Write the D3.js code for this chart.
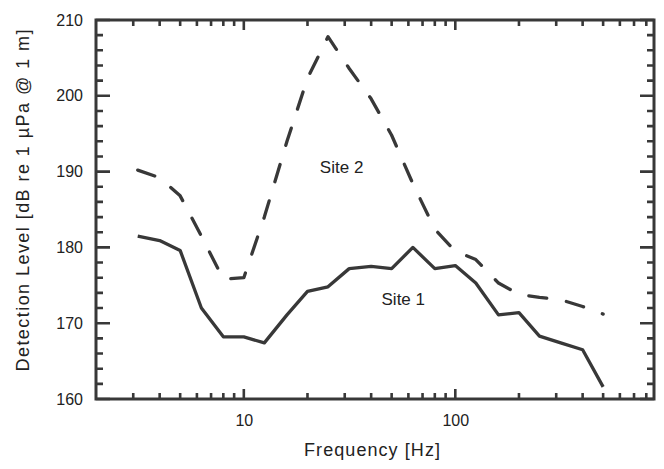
<!DOCTYPE html>
<html lang="en">
<head>
  <meta charset="UTF-8" />
  <title>Detection Level vs Frequency</title>
  <script src="https://d3js.org/d3.v7.min.js"></script>
  <style>
    body {
      margin: 0;
      background: #fff;
      font-family: "Liberation Sans", Arial, sans-serif;
    }
  </style>
</head>
<body>
  <div id="chart"></div>

  <script>
    // 1/3-octave band centres (Hz)
    const freqs = [3.15, 4, 5, 6.3, 8, 10, 12.5, 16, 20, 25, 31.5, 40, 50, 63, 80, 100, 125, 160, 200, 250, 315, 400, 500];
    const site1 = [181.5, 180.9, 179.6, 172.0, 168.2, 168.2, 167.4, 171.1, 174.2, 174.8, 177.2, 177.5, 177.2, 180.0, 177.2, 177.6, 175.3, 171.1, 171.4, 168.3, 167.4, 166.5, 161.6];
    const site2 = [190.2, 189.2, 186.8, 181.5, 175.8, 176.0, 184.0, 194.0, 202.3, 207.8, 203.6, 199.6, 194.8, 188.4, 182.4, 179.5, 178.4, 175.3, 173.8, 173.4, 173.1, 172.2, 171.2];

    const xMajor = [10, 100];
    const xMinor = [3, 4, 5, 6, 7, 8, 9, 20, 30, 40, 50, 60, 70, 80, 90, 200, 300, 400, 500, 600, 700, 800];
    const yMajor = [160, 170, 180, 190, 200, 210];
    const yMinor = d3.range(162, 210, 2).filter(v => v % 10 !== 0);

    const W = 664, H = 469;
    const margin = { top: 20, right: 10, bottom: 70, left: 96 },
          width = W - margin.left - margin.right,
          height = H - margin.top - margin.bottom;

    const ink = "#383838";

    const svg = d3.select("#chart")
      .append("svg")
      .attr("width", W)
      .attr("height", H);

    const g = svg.append("g")
      .attr("transform", `translate(${margin.left},${margin.top})`);

    const x = d3.scaleLog().domain([2, 870]).range([0, width]);
    const y = d3.scaleLinear().domain([160, 210]).range([height, 0]);

    // tick labels (axes only used for text)
    function styleAxis(sel) {
      sel.select(".domain").remove();
      sel.selectAll(".tick line").remove();
      sel.selectAll("text")
        .attr("fill", "#222")
        .style("font-size", "16px")
        .style("font-family", "'Liberation Sans', Arial, sans-serif");
    }

    g.append("g")
      .attr("transform", `translate(0,${height})`)
      .call(d3.axisBottom(x).tickValues(xMajor).tickSize(0).tickPadding(16).tickFormat(d3.format("d")))
      .call(styleAxis);

    g.append("g")
      .call(d3.axisLeft(y).tickValues(yMajor).tickSize(0).tickPadding(13).tickFormat(d3.format("d")))
      .call(styleAxis);

    // inward tick marks on all four sides, built as one path
    function tickPath() {
      const p = d3.path();
      const xt = (vals, len) => vals.forEach(d => {
        p.moveTo(x(d), height); p.lineTo(x(d), height - len);
        p.moveTo(x(d), 0); p.lineTo(x(d), len);
      });
      const yt = (vals, len) => vals.forEach(d => {
        p.moveTo(0, y(d)); p.lineTo(len, y(d));
        p.moveTo(width, y(d)); p.lineTo(width - len, y(d));
      });
      xt(xMajor, 10);
      xt(xMinor, 6);
      yt(yMajor, 14);
      yt(yMinor, 7);
      return p.toString();
    }

    g.append("path")
      .attr("d", tickPath())
      .attr("fill", "none")
      .attr("stroke", ink)
      .attr("stroke-width", 2.6);

    // frame
    g.append("rect")
      .attr("x", 0).attr("y", 0)
      .attr("width", width).attr("height", height)
      .attr("fill", "none")
      .attr("stroke", ink)
      .attr("stroke-width", 3);

    // lines
    const line = d3.line()
      .x(d => x(d[0]))
      .y(d => y(d[1]));

    g.append("path")
      .datum(freqs.map((f, i) => [f, site2[i]]))
      .attr("fill", "none")
      .attr("stroke", ink)
      .attr("stroke-width", 3.3)
      .attr("stroke-linecap", "round")
      .attr("stroke-linejoin", "round")
      .attr("stroke-dasharray", "18,20")
      .attr("d", line);

    g.append("path")
      .datum(freqs.map((f, i) => [f, site1[i]]))
      .attr("fill", "none")
      .attr("stroke", ink)
      .attr("stroke-width", 3.3)
      .attr("stroke-linejoin", "round")
      .attr("d", line);

    // series labels
    g.append("text")
      .attr("x", x(58) - 2)
      .attr("y", y(172.4))
      .attr("text-anchor", "middle")
      .attr("fill", "#222")
      .style("font-size", "17px")
      .text("Site 1");

    g.append("text")
      .attr("x", x(29))
      .attr("y", y(189.8))
      .attr("text-anchor", "middle")
      .attr("fill", "#222")
      .style("font-size", "17px")
      .text("Site 2");

    // axis titles
    g.append("text")
      .attr("x", width / 2 - 3)
      .attr("y", height + 57)
      .attr("text-anchor", "middle")
      .attr("fill", "#222")
      .attr("textLength", 136)
      .attr("lengthAdjust", "spacing")
      .style("font-size", "18px")
      .text("Frequency [Hz]");

    g.append("text")
      .attr("transform", "rotate(-90)")
      .attr("x", -height / 2 + 8 - 170)
      .attr("y", -margin.left + 29)
      .attr("fill", "#222")
      .attr("textLength", 342)
      .attr("lengthAdjust", "spacing")
      .style("font-size", "18px")
      .text("Detection Level [dB re 1 µPa @ 1 m]");
  </script>
</body>
</html>
